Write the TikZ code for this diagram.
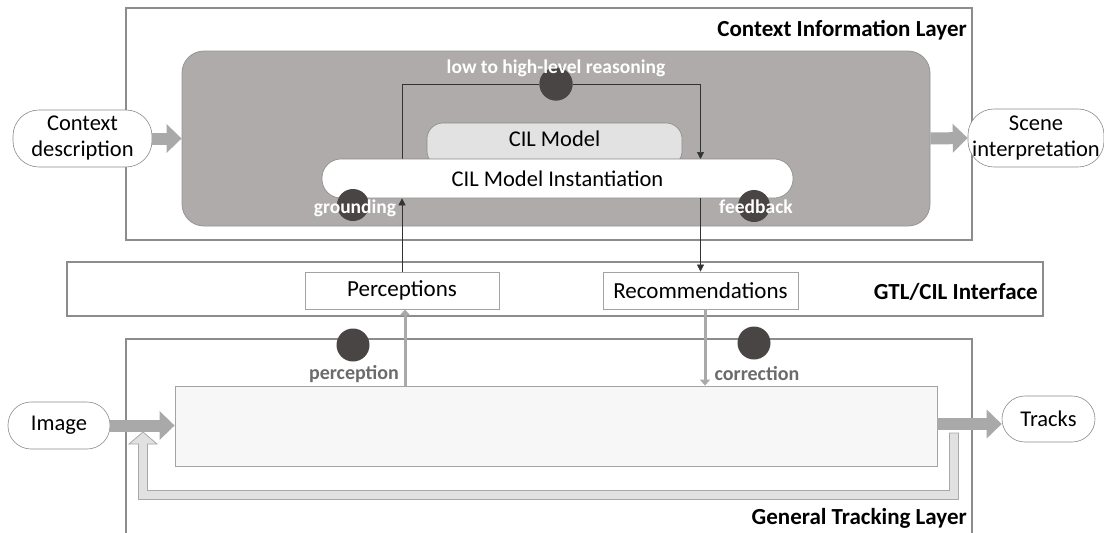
\documentclass[tikz,border=0pt]{standalone}
\usepackage{fontspec}
\setmainfont{Carlito}
\usetikzlibrary{arrows.meta,calc}
\definecolor{boxline}{HTML}{8C8C8C}
\definecolor{darkfill}{HTML}{AEABAA}
\definecolor{darkline}{HTML}{989494}
\definecolor{circfill}{HTML}{4A4545}
\definecolor{modelfill}{HTML}{E2E2E2}
\definecolor{trackfill}{HTML}{F7F7F7}
\definecolor{arrowfill}{HTML}{A9A9A9}
\definecolor{loopfill}{HTML}{E1E1E1}
\definecolor{loopline}{HTML}{A8A8A8}
\definecolor{labelgray}{HTML}{6B6B6B}
\definecolor{pillline}{HTML}{8A8A8A}
\begin{document}
\begin{tikzpicture}[x=1pt,y=-1pt,
  layerbox/.style={draw=boxline, line width=1.4pt, fill=white, inner sep=0},
  pill/.style={draw=pillline, line width=0.6pt, fill=white, inner sep=0, align=center,
    font=\fontsize{22.5}{26}\selectfont},
  plainbox/.style={draw=boxline!80, line width=0.8pt, fill=white, inner sep=0,
    font=\fontsize{23}{26}\selectfont},
  fat/.style={line width=12pt, draw=arrowfill, -{Triangle[length=15pt,width=28pt]}},
  thinarr/.style={draw=black!80, line width=0.6pt, -{Triangle[length=7pt,width=7pt]}},
  grayarr/.style={draw=arrowfill, line width=3pt, -{Triangle[length=6pt,width=10pt]}},
  dot/.style={circle, fill=circfill, minimum size=33pt, inner sep=0},
  wlabel/.style={text=white, font=\bfseries\fontsize{19.5}{21}\selectfont, inner sep=0},
  glabel/.style={text=labelgray, font=\bfseries\fontsize{20}{22}\selectfont, inner sep=0},
  ltitle/.style={font=\bfseries\fontsize{23}{25}\selectfont, anchor=east, inner sep=0}
]
\useasboundingbox (0,0) rectangle (1104,533);

% ---- Context Information Layer
\node[layerbox, minimum width=846pt, minimum height=232pt] (cil) at (549,124) {};
\node[ltitle] (cilt) at (967,30) {Context Information Layer};
\node[draw=darkline, fill=darkfill, line width=0.8pt, rounded corners=22pt,
  minimum width=748pt, minimum height=175pt, inner sep=0] (dark) at (556,138.5) {};

\node[pill, rounded corners=26pt, minimum width=139pt, minimum height=57pt] (ctx) at (82.5,138.5) {Context\\description};
\node[pill, rounded corners=26pt, minimum width=136pt, minimum height=58pt] (scene) at (1036,138) {Scene\\interpretation};

\node[draw=pillline, fill=modelfill, line width=0.6pt, rounded corners=16pt, inner sep=0,
  minimum width=255pt, minimum height=44pt, text depth=12pt, font=\fontsize{22.5}{25}\selectfont] (model) at (554.5,145) {CIL Model};

% GTL/CIL interface
\node[layerbox, minimum width=976pt, minimum height=54pt] (gci) at (555,289) {};
\node[ltitle] (gcit) at (1038,292) {GTL/CIL Interface};
\node[plainbox, minimum width=194pt, minimum height=37pt] (percept) at (402,290.5) {Perceptions};
\node[plainbox, minimum width=195pt, minimum height=37pt] (recom) at (700.5,290.5) {Recommendations};

% reasoning circle
\node[dot] (rc) at (556,84) {};

% reasoning line
\coordinate (rstart) at (402,159);
\coordinate (rend) at (700.5,159);
\draw[draw=black!80, line width=0.6pt] (rstart) |- (rc);
\draw[thinarr] (rc) -| (rend);
\node[dot] at (rc) {};
\node[wlabel] (rl) at (556,68) {low to high-level reasoning};

\node[pill, rounded corners=19pt, minimum width=471pt, minimum height=39pt] (inst) at (557.5,178.5) {CIL Model Instantiation};

% grounding / feedback
\draw[thinarr] (percept.north) -- (percept.north |- inst.south);
\draw[thinarr] (inst.south -| recom.north) -- (recom.north);
\node[dot, minimum size=32pt] (gc) at (353,205) {};
\node[wlabel] (gl) at (355,208) {grounding};
\node[dot, minimum size=32pt] (fc) at (754,206) {};
\node[wlabel] (fl) at (756,207) {feedback};

% CIL in/out arrows
\draw[fat] (ctx.east) -- (dark.west);
\draw[fat] (dark.east) -- (scene.west);

% ---- General Tracking Layer
\draw[draw=boxline, line width=1.4pt] (126,545) -- (126,339) -- (972,339) -- (972,545);
\node[ltitle] (gtlt) at (967,518) {General Tracking Layer};
\node[draw=boxline!80, fill=trackfill, line width=0.8pt, minimum width=762pt, minimum height=80pt, inner sep=0] (track) at (556,426) {};

\node[pill, rounded corners=23pt, minimum width=102pt, minimum height=47pt] (image) at (59,425.5) {Image};
\node[pill, rounded corners=23pt, minimum width=93pt, minimum height=46pt] (tracks) at (1048.5,419) {Tracks};

\draw[fat] (image.east) -- (image.east -| track.west);
\draw[fat] (track.east |- 0,424) -- (tracks.west |- 0,424);

% perception / correction
\draw[grayarr] ([xshift=3pt]percept.south |- track.north) -- ([xshift=3pt]percept.south);
\draw[grayarr] ([xshift=4.5pt]recom.south) -- ([xshift=4.5pt]recom.south |- track.north);
\node[dot] (pc) at (353,345) {};
\node[glabel] (pl) at (354,374) {perception};
\node[dot] (cc) at (754,343) {};
\node[glabel] (cl) at (757,374) {correction};

% feedback loop of tracking layer
\coordinate (loopstart) at (954,433);
\coordinate (looptip) at (143,432);
\draw[draw=loopline, fill=loopfill, line width=0.8pt, line join=miter]
  ($(loopstart)+(-4.5,0)$) -- ($(loopstart)+(4.5,0)$) -- (958.5,499.5) -- (138.5,499.5)
  -- (138.5,444) -- (129,444) -- (looptip) -- (157,444) -- (147.5,444)
  -- (147.5,490.5) -- (949.5,490.5) -- cycle;
\end{tikzpicture}
\end{document}
